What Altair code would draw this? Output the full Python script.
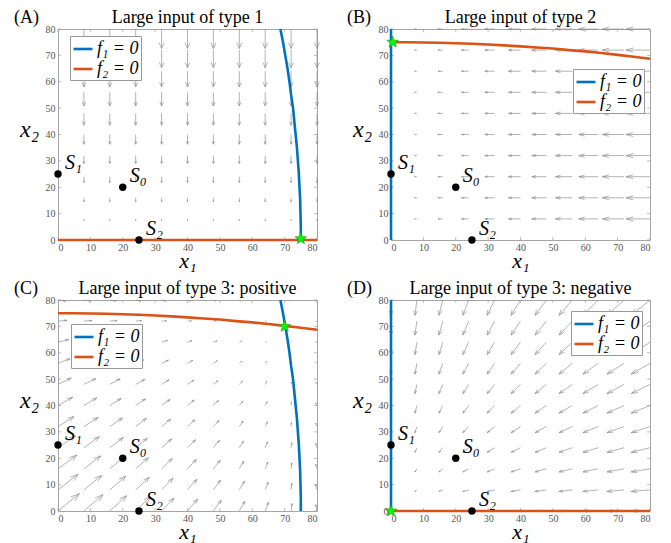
import altair as alt
import pandas as pd

SERIF = "Liberation Serif"
W, H = 259, 211
GRID = [0, 8, 16, 24, 32, 40, 48, 56, 64, 72, 80]
TICKS = [0, 10, 20, 30, 40, 50, 60, 70, 80]

TITLES = ["Large input of type 1", "Large input of type 2",
          "Large input of type 3: positive", "Large input of type 3: negative"]
TAGS = ["(A)", "(B)", "(C)", "(D)"]

S_NAMES = ["S₀", "S₁", "S₂"]
S_X = [20, 0, 25]
S_Y = [20, 25, 0]

STAR_X = [75, 0.5, 70, 0]
STAR_Y = [0.5, 75, 70, 0]

# curved nullcline: coordinate along the curve (T) and the other coordinate (S)
NC_T = [0, 5, 10, 15, 20, 25, 30, 35, 40, 45, 50, 55, 60, 65, 70, 75, 80]
NC_S = [75.0, 75.0, 74.9, 74.8, 74.6, 74.4, 74.1, 73.8, 73.4, 73.0, 72.6,
        72.0, 71.5, 70.9, 70.2, 69.5, 68.7]
EDGE = [0, 80]
ZERO = [0, 0]

# vector fields (arrow components in data units, as drawn)
A_V_BY_ROW = [0.0, -0.7, -1.5, -2.2, -3.0, -3.7, -4.5, -5.2, -6.0, -6.7, -7.4]
B_U_BY_COL = [0.0, -0.7, -1.5, -2.2, -3.0, -3.7, -4.5, -5.2, -6.0, -6.7, -7.4]
D_U_BY_COL = [0.0, -0.6, -1.2, -1.8, -2.3, -2.9, -3.5, -4.1, -4.7, -5.3, -5.8]
D_V_BY_ROW = [0.0, -0.6, -1.2, -1.8, -2.3, -2.9, -3.5, -4.1, -4.7, -5.3, -5.8]
C_U = [
    [6.6, 5.9, 5.2, 4.5, 3.8, 3.1, 2.4, 1.7, 1.0, 0.3, -0.4],
    [6.2, 5.5, 4.9, 4.2, 3.5, 2.9, 2.2, 1.6, 0.9, 0.2, -0.4],
    [5.8, 5.2, 4.5, 3.9, 3.3, 2.7, 2.1, 1.4, 0.8, 0.2, -0.4],
    [5.4, 4.8, 4.2, 3.6, 3.1, 2.5, 1.9, 1.3, 0.7, 0.2, -0.4],
    [4.9, 4.4, 3.9, 3.3, 2.8, 2.3, 1.7, 1.2, 0.7, 0.1, -0.4],
    [4.5, 4.0, 3.5, 3.0, 2.6, 2.1, 1.6, 1.1, 0.6, 0.1, -0.4],
    [4.1, 3.7, 3.2, 2.8, 2.3, 1.9, 1.4, 1.0, 0.5, 0.1, -0.4],
    [3.7, 3.3, 2.9, 2.5, 2.1, 1.6, 1.2, 0.8, 0.4, 0.0, -0.4],
    [3.3, 2.9, 2.5, 2.2, 1.8, 1.4, 1.1, 0.7, 0.3, 0.0, -0.4],
    [2.8, 2.5, 2.2, 1.9, 1.5, 1.2, 0.9, 0.6, 0.3, -0.1, -0.4],
    [2.4, 2.1, 1.8, 1.6, 1.3, 1.0, 0.7, 0.4, 0.2, -0.1, -0.4],
]
C_V = [
    [6.6, 6.2, 5.8, 5.4, 4.9, 4.5, 4.1, 3.7, 3.3, 2.8, 2.4],
    [5.9, 5.5, 5.2, 4.8, 4.4, 4.0, 3.7, 3.3, 2.9, 2.5, 2.1],
    [5.2, 4.9, 4.5, 4.2, 3.9, 3.5, 3.2, 2.9, 2.5, 2.2, 1.8],
    [4.5, 4.2, 3.9, 3.6, 3.3, 3.0, 2.8, 2.5, 2.2, 1.9, 1.6],
    [3.8, 3.5, 3.3, 3.1, 2.8, 2.6, 2.3, 2.1, 1.8, 1.5, 1.3],
    [3.1, 2.9, 2.7, 2.5, 2.3, 2.1, 1.9, 1.6, 1.4, 1.2, 1.0],
    [2.4, 2.2, 2.1, 1.9, 1.7, 1.6, 1.4, 1.2, 1.1, 0.9, 0.7],
    [1.7, 1.6, 1.4, 1.3, 1.2, 1.1, 1.0, 0.8, 0.7, 0.6, 0.4],
    [1.0, 0.9, 0.8, 0.7, 0.7, 0.6, 0.5, 0.4, 0.3, 0.3, 0.2],
    [0.3, 0.2, 0.2, 0.2, 0.1, 0.1, 0.1, 0.0, 0.0, -0.1, -0.1],
    [-0.4, -0.4, -0.4, -0.4, -0.4, -0.4, -0.4, -0.4, -0.4, -0.4, -0.4],
]

LEG_POS = [(12, 7), (182, 40), (13, 24), (180, 11)]

BLUE = "#0072BD"
ORANGE = "#D95319"
ARROW = "#8a8a8a"
FRAME = "#a6a6a6"
STAR_PATH = ("M0,-1L0.235,-0.324L0.951,-0.309L0.38,0.124L0.588,0.809L0,0.4"
             "L-0.588,0.809L-0.38,0.124L-0.951,-0.309L-0.235,-0.324Z")


def field(p):
    out = []
    for i, y in enumerate(GRID):
        for j, x in enumerate(GRID):
            if p == 0:
                if j == 0:
                    continue
                u, v = 0.0, A_V_BY_ROW[i]
            elif p == 1:
                if i == 0:
                    continue
                u, v = B_U_BY_COL[j], 0.0
            elif p == 2:
                u, v = C_U[i][j], C_V[i][j]
            else:
                u, v = D_U_BY_COL[j], D_V_BY_ROW[i]
            out.append((x, y, u, v))
    return out


def arrow_segments(p):
    a, b = 0.3, 0.35
    rows = []
    for x, y, u, v in field(p):
        if u == 0 and v == 0:
            continue
        tx, ty = x + u, y + v
        rows.append(dict(x=x, y=y, x2=tx, y2=ty))
        rows.append(dict(x=tx, y=ty, x2=tx - a * (u + b * v), y2=ty - a * (v - b * u)))
        rows.append(dict(x=tx, y=ty, x2=tx - a * (u - b * v), y2=ty - a * (v + b * u)))
    return pd.DataFrame(rows)


def nullclines(p):
    rows = []
    if p in (0, 2):
        f1 = list(zip(NC_S, NC_T))
    else:
        f1 = list(zip(ZERO, EDGE))
    if p in (1, 2):
        f2 = list(zip(NC_T, NC_S))
    else:
        f2 = list(zip(EDGE, ZERO))
    for k, (x, y) in enumerate(f1):
        rows.append(dict(curve="f₁ = 0", k=k, x=x, y=y))
    for k, (x, y) in enumerate(f2):
        rows.append(dict(curve="f₂ = 0", k=k, x=x, y=y))
    return pd.DataFrame(rows)


def tick_segments():
    rows = []
    for t in TICKS:
        rows.append(dict(x=t, y=0, x2=t, y2=1.1))
        rows.append(dict(x=t, y=80, x2=t, y2=78.9))
        rows.append(dict(x=0, y=t, x2=0.9, y2=t))
        rows.append(dict(x=80, y=t, x2=79.1, y2=t))
    return pd.DataFrame(rows)


xs = alt.Scale(domain=[0, 80], nice=False, zero=False)
ys = alt.Scale(domain=[0, 80], nice=False, zero=False)
XAXIS = alt.Axis(values=TICKS, title="x₁", titleFont=SERIF, titleFontSize=22,
                 titleFontStyle="italic", titleFontWeight="normal",
                 titleY=27, titleBaseline="alphabetic", titleColor="black",
                 labelFont=SERIF, labelFontSize=10, labelColor="#555555",
                 labelPadding=2, labelOverlap=False, ticks=False, domain=False,
                 grid=False)
YAXIS = alt.Axis(values=TICKS, title="x₂", titleFont=SERIF, titleFontSize=24,
                 titleFontStyle="italic", titleFontWeight="normal",
                 titleAngle=0, titleX=-29, titleY=100, titleAlign="center",
                 titleBaseline="middle", titleColor="black",
                 labelFont=SERIF, labelFontSize=10, labelColor="#555555",
                 labelPadding=3, labelOverlap=False, ticks=False, domain=False,
                 grid=False)
X = alt.X("x:Q", scale=xs, axis=XAXIS)
Y = alt.Y("y:Q", scale=ys, axis=YAXIS)


def panel(p):
    arrows = alt.Chart(arrow_segments(p)).mark_rule(color=ARROW, strokeWidth=0.65).encode(
        x=X, y=Y, x2="x2:Q", y2="y2:Q")
    ticks = alt.Chart(tick_segments()).mark_rule(color=FRAME, strokeWidth=0.8).encode(
        x=X, y=Y, x2="x2:Q", y2="y2:Q")
    lx, ly = LEG_POS[p]
    lines = alt.Chart(nullclines(p)).mark_line(strokeWidth=2.6).encode(
        x=X, y=Y, order="k:Q",
        color=alt.Color("curve:N",
                        scale=alt.Scale(domain=["f₁ = 0", "f₂ = 0"], range=[BLUE, ORANGE]),
                        legend=alt.Legend(orient="none", legendX=lx, legendY=ly, title=None,
                                          symbolType="stroke", symbolSize=360,
                                          symbolStrokeWidth=2.6, labelFont=SERIF,
                                          labelFontSize=18, labelFontStyle="italic",
                                          labelColor="black", labelOffset=3,
                                          fillColor="white", strokeColor="#999999",
                                          padding=2, rowPadding=0, labelLimit=200)))
    sdf = pd.DataFrame({"name": S_NAMES, "x": S_X, "y": S_Y})
    pts = alt.Chart(sdf).mark_circle(color="black", opacity=1, size=55).encode(x=X, y=Y)
    lbl = alt.Chart(sdf).mark_text(align="left", baseline="alphabetic", dx=7, dy=-5,
                                   font=SERIF, fontSize=20, fontStyle="italic",
                                   color="black").encode(x=X, y=Y, text="name:N")
    star = alt.Chart(pd.DataFrame({"x": [STAR_X[p]], "y": [STAR_Y[p]]})).mark_point(
        shape=STAR_PATH, filled=True, fill="#00ff00", stroke="#1f8f1f",
        strokeWidth=0.6, size=150, opacity=1).encode(x=X, y=Y)
    head = pd.DataFrame({"t": [TAGS[p], TITLES[p]]})
    tag = alt.Chart(head.iloc[[0]]).mark_text(
        align="left", baseline="middle", font=SERIF, fontSize=18, color="black").encode(
        x=alt.value(-44), y=alt.value(-11), text="t:N")
    title = alt.Chart(head.iloc[[1]]).mark_text(
        align="center", baseline="middle", font=SERIF, fontSize=18, color="black").encode(
        x=alt.value(W / 2), y=alt.value(-11), text="t:N")
    return alt.layer(arrows, ticks, lines, pts, lbl, star, tag, title).properties(
        width=W, height=H)


chart = alt.concat(panel(0), panel(1), panel(2), panel(3), columns=2).properties(
    spacing={"row": 7, "column": 23},
    padding={"left": 5, "top": 0, "right": 0, "bottom": 0},
).resolve_scale(color="independent").resolve_legend(color="independent").configure_view(
    stroke=FRAME, strokeWidth=1)

chart.save("out.html", embed_options={"renderer": "svg", "actions": False})
